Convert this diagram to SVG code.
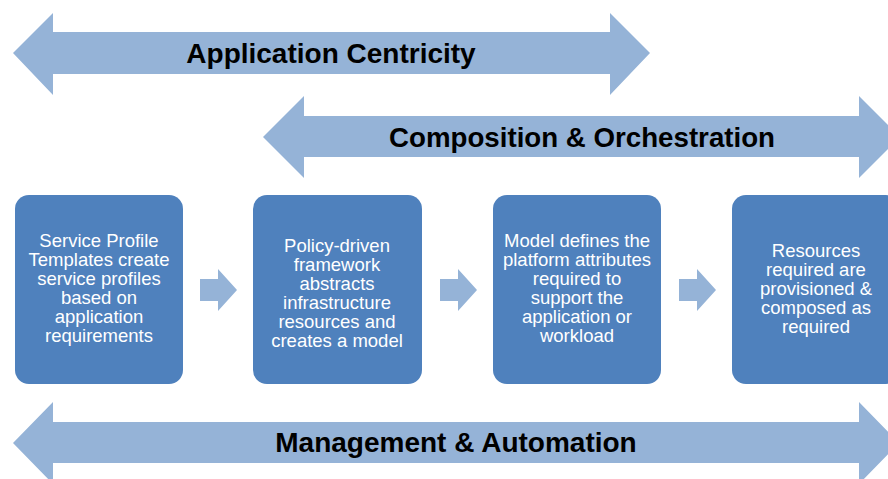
<svg xmlns="http://www.w3.org/2000/svg" width="888" height="479" viewBox="0 0 888 479">
<style>
.band{fill:#95B3D7;}
.step{fill:#95B3D7;}
.box{fill:#4F81BD;}
.big{font-family:"Liberation Sans",Arial,sans-serif;font-weight:bold;font-size:28px;fill:#000;text-anchor:middle;}
.lbl{font-family:"Liberation Sans",Arial,sans-serif;font-size:18.5px;fill:#fff;text-anchor:middle;}
</style>
<rect width="888" height="479" fill="#fff"/>
<g id="band-application-centricity">
<polygon class="band" points="13,53 53,13 53,32 610,32 610,13 650,53 610,95 610,74 53,74 53,95"/>
<text class="big" x="331" y="63">Application Centricity</text>
</g>
<g id="band-composition-orchestration">
<polygon class="band" points="263,137 304,96 304,116 859,116 859,96 900,137 859,178 859,157 304,157 304,178"/>
<text class="big" x="582" y="147" textLength="386" lengthAdjust="spacingAndGlyphs">Composition &amp; Orchestration</text>
</g>
<g id="band-management-automation">
<polygon class="band" points="13,443 53,402 53,422 859,422 859,402 899,443 859,484 859,463 53,463 53,484"/>
<text class="big" x="456" y="452">Management &amp; Automation</text>
</g>
<g id="node-templates">
<rect class="box" x="15" y="195" width="168" height="189" rx="14"/>
<text class="lbl" x="99"><tspan x="99" y="247">Service Profile</tspan><tspan x="99" y="266">Templates create</tspan><tspan x="99" y="285">service profiles</tspan><tspan x="99" y="304">based on</tspan><tspan x="99" y="323">application</tspan><tspan x="99" y="342">requirements</tspan></text>
</g>
<g id="node-policy">
<rect class="box" x="253" y="195" width="169" height="189" rx="14"/>
<text class="lbl" x="337"><tspan x="337" y="252">Policy-driven</tspan><tspan x="337" y="271">framework</tspan><tspan x="337" y="290">abstracts</tspan><tspan x="337" y="309">infrastructure</tspan><tspan x="337" y="328">resources and</tspan><tspan x="337" y="347">creates a model</tspan></text>
</g>
<g id="node-model">
<rect class="box" x="493" y="195" width="168" height="189" rx="14"/>
<text class="lbl" x="577"><tspan x="577" y="247">Model defines the</tspan><tspan x="577" y="266">platform attributes</tspan><tspan x="577" y="285">required to</tspan><tspan x="577" y="304">support the</tspan><tspan x="577" y="323">application or</tspan><tspan x="577" y="342">workload</tspan></text>
</g>
<g id="node-resources">
<rect class="box" x="732" y="195" width="168" height="189" rx="14"/>
<text class="lbl" x="816"><tspan x="816" y="257">Resources</tspan><tspan x="816" y="276">required are</tspan><tspan x="816" y="295">provisioned &amp;</tspan><tspan x="816" y="314">composed as</tspan><tspan x="816" y="333">required</tspan></text>
</g>
<g id="connectors">
<polygon class="step" points="200,279 218,279 218,269 237,290 218,311 218,301 200,301"/>
<polygon class="step" points="440,279 458,279 458,269 477,290 458,311 458,301 440,301"/>
<polygon class="step" points="679,279 697,279 697,269 716,290 697,311 697,301 679,301"/>
</g>
</svg>
